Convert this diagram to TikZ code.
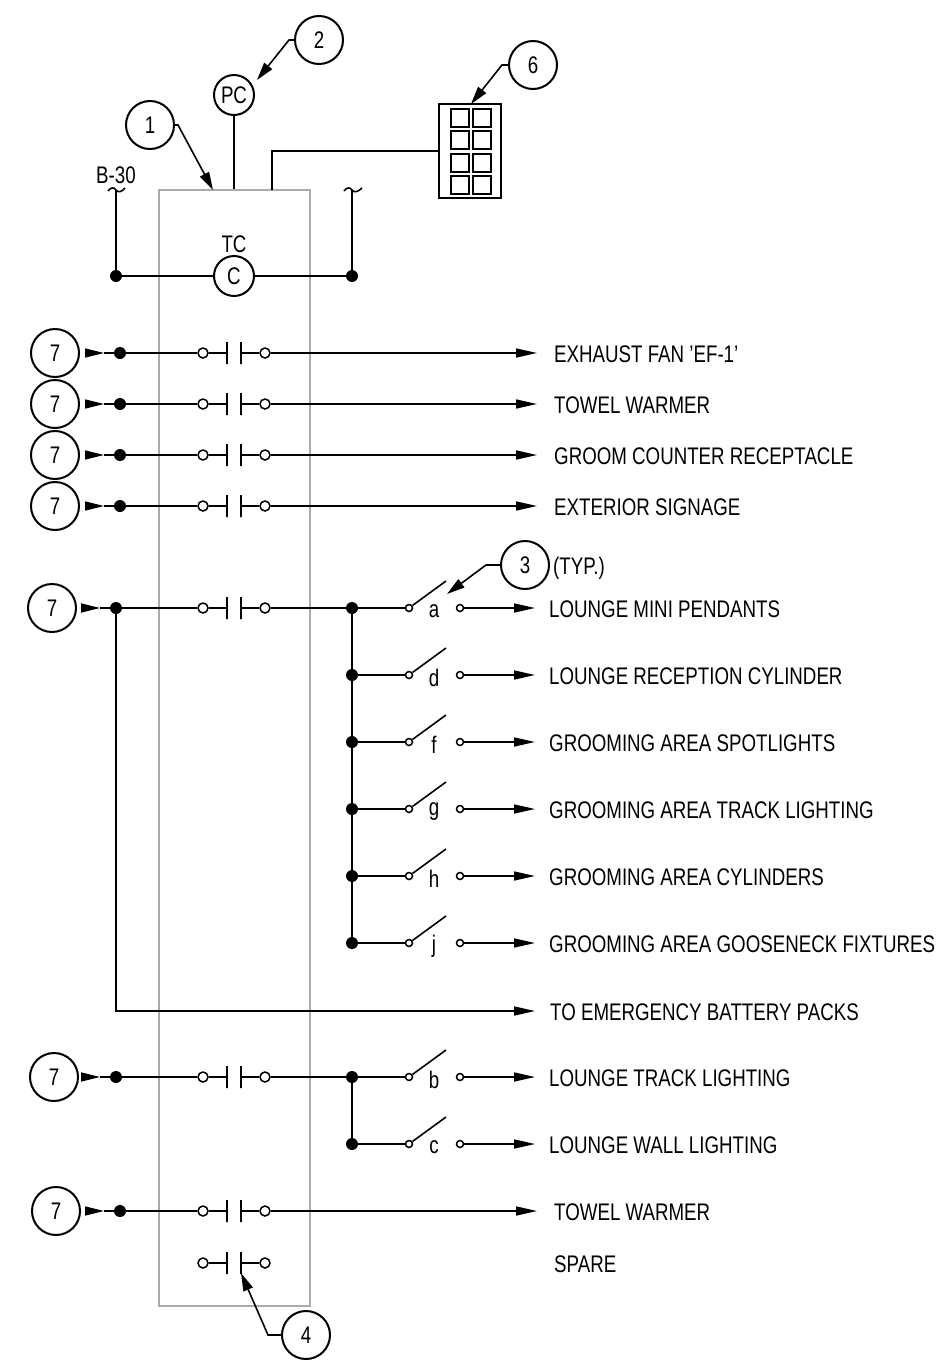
\documentclass[tikz,border=0pt]{standalone}
\usepackage{fontspec}
\setmainfont[FakeStretch=0.78]{Liberation Sans}
\usetikzlibrary{arrows.meta}
\tikzset{
	wire/.style={line width=1.6pt,black},
	callout/.style={circle,draw,line width=2pt,fill=white,minimum size=48pt,inner sep=0pt},
	meter/.style={circle,draw,line width=2pt,fill=white,minimum size=40pt,inner sep=0pt},
	junction/.style={circle,fill=black,minimum size=12pt,inner sep=0pt},
	terminal/.style={circle,draw,line width=1.5pt,fill=white,minimum size=10pt,inner sep=0pt},
	swterminal/.style={circle,draw,line width=1.5pt,fill=white,minimum size=7pt,inner sep=0pt},
	plate/.style={draw,line width=1.4pt,minimum width=0pt,minimum height=22pt,inner sep=0pt},
	panel/.style={draw=black!33,line width=1.3pt,minimum width=151pt,minimum height=1116pt,inner sep=0pt},
	keybtn/.style={draw,line width=2pt,minimum width=18pt,minimum height=18pt,inner sep=0pt},
	lbl/.style={anchor=west,inner sep=0pt,text height=17pt,text depth=0pt,yshift=-1pt},
	tag/.style={inner sep=0pt},
	leader/.style={wire,-{Triangle[length=18pt,width=10pt]}},
	feedtip/.style={wire,-{Triangle[length=19pt,width=9pt]},shorten <=#1},
	outtip/.style={wire,-{Triangle[length=21pt,width=9pt]}},
	every node/.append style={font=\fontsize{24}{26}\selectfont}
}
% contact pair on one row: name, y
\newcommand{\contactpair}[2]{
	\node[terminal] (#1l) at (203,#2) {};
	\node[plate] (#1pl) at (227,#2) {};
	\node[plate] (#1pr) at (241,#2) {};
	\node[terminal] (#1r) at (265,#2) {};
	\draw[wire] (#1l) -- (#1pl);
	\draw[wire] (#1pr) -- (#1r);
}
% supply circle, wedge and dot: name, circle x, dot x, y
\newcommand{\supply}[4]{
	\node[callout] (#1c) at (#2,#4) {7};
	\node[junction] (#1d) at (#3,#4) {};
	\coordinate (#1t) at ({#3-16},#4);
	\draw[feedtip=4.5pt] (#1c) -- (#1t);
	\draw[wire] (#1t) -- (#1d);
	\draw[wire] (#1d) -- (#1l);
}
% switch and its load: name, letter, y, label
\newcommand{\switchload}[4]{
	\node[swterminal] (#1a) at (409,#3) {};
	\node[swterminal] (#1b) at (460,#3) {};
	\node[tag] (#1n) at (434,{#3+3}) {#2};
	\coordinate (#1u) at (446,{#3-27});
	\coordinate (#1e) at (535,#3);
	\node[lbl] (#1x) at (549,#3) {#4};
	\draw[wire] (#1a) -- (#1u);
	\draw[outtip] (#1b) -- (#1e);
}
% direct load after a contact pair: name, y, label
\newcommand{\directload}[3]{
	\coordinate (#1e) at (537,#2);
	\node[lbl] (#1x) at (554,#2) {#3};
	\draw[outtip] (#1r) -- (#1e);
}

\begin{document}
\begin{tikzpicture}[x=1pt,y=-1pt]
	\useasboundingbox (0,0) rectangle (941,1365);

	\node[panel] (tcbox) at (234.5,748) {};

	% control circuit
	\node[meter] (pc) at (234,95) {PC};
	\node[meter] (coil) at (234,276) {C};
	\node[tag] (tc) at (234,244) {TC};
	\node[tag] (bkr) at (116,175) {B-30};
	\node[junction] (jl) at (116,276) {};
	\node[junction] (jr) at (352,276) {};
	\coordinate (bl) at (116,190);
	\coordinate (br) at (352,190);
	\draw[wire] (jl) -- (bl);
	\draw[wire] (jr) -- (br);
	\draw[wire] (jl) -- (coil);
	\draw[wire] (coil) -- (jr);
	\draw[wire] (108,191) .. controls (111,187) and (114,187) .. (116,190) .. controls (118,193) and (122,192) .. (125,188);
	\draw[wire] (344,191) .. controls (347,187) and (350,187) .. (352,190) .. controls (354,193) and (358,192) .. (362,188);
	\draw[wire] (pc) -- (pc |- tcbox.north);

	% keypad
	\node[draw,line width=2pt,minimum width=62pt,minimum height=94pt,inner sep=0pt] (keypad) at (470,151) {};
	\node[keybtn] (k1) at (459.5,117.5) {};
	\node[keybtn] (k2) at (481.5,117.5) {};
	\node[keybtn] (k3) at (459.5,139.5) {};
	\node[keybtn] (k4) at (481.5,139.5) {};
	\node[keybtn] (k5) at (459.5,162.5) {};
	\node[keybtn] (k6) at (481.5,162.5) {};
	\node[keybtn] (k7) at (459.5,185) {};
	\node[keybtn] (k8) at (481.5,185) {};
	\coordinate (kw) at (272,190);
	\draw[wire] (kw) |- (keypad.west);

	% callouts
	\node[callout] (c1) at (150,125) {1};
	\node[callout] (c2) at (319,40) {2};
	\node[callout] (c3) at (525,565) {3};
	\node[callout] (c4) at (306,1335) {4};
	\node[callout] (c6) at (533,65) {6};
	\node[lbl] (typ) at (553,565) {(TYP.)};
	\coordinate (c1b) at (178,125);
	\coordinate (c1t) at (213,190);
	\coordinate (c2b) at (289,40);
	\coordinate (c2t) at (257,80);
	\coordinate (c3b) at (486,565);
	\coordinate (c3t) at (447,594);
	\coordinate (c4b) at (268,1335);
	\coordinate (c4t) at (241,1273);
	\coordinate (c6b) at (502,65);
	\coordinate (c6t) at (471,104);
	\draw[leader] (c1) -- (c1b) -- (c1t);
	\draw[leader] (c2) -- (c2b) -- (c2t);
	\draw[leader] (c3) -- (c3b) -- (c3t);
	\draw[leader] (c4) -- (c4b) -- (c4t);
	\draw[leader] (c6) -- (c6b) -- (c6t);

	% direct loads
	\contactpair{fan}{353}
	\supply{fan}{55}{120}{353}
	\directload{fan}{353}{EXHAUST FAN 'EF-1'}
	\contactpair{twa}{404}
	\supply{twa}{55}{120}{404}
	\directload{twa}{404}{TOWEL WARMER}
	\contactpair{grm}{455}
	\supply{grm}{55}{120}{455}
	\directload{grm}{455}{GROOM COUNTER RECEPTACLE}
	\contactpair{ext}{506}
	\supply{ext}{55}{120}{506}
	\directload{ext}{506}{EXTERIOR SIGNAGE}

	% lighting group
	\contactpair{lng}{608}
	\supply{lng}{52}{116}{608}
	\node[junction] (ja) at (352,608) {};
	\node[junction] (jd) at (352,675) {};
	\node[junction] (jf) at (352,742) {};
	\node[junction] (jg) at (352,809) {};
	\node[junction] (jh) at (352,876) {};
	\node[junction] (jj) at (352,943) {};
	\draw[wire] (lngr) -- (ja);
	\draw[wire] (ja) -- (jj);
	\switchload{swa}{a}{608}{LOUNGE MINI PENDANTS}
	\switchload{swd}{d}{675}{LOUNGE RECEPTION CYLINDER}
	\switchload{swf}{f}{742}{GROOMING AREA SPOTLIGHTS}
	\switchload{swg}{g}{809}{GROOMING AREA TRACK LIGHTING}
	\switchload{swh}{h}{876}{GROOMING AREA CYLINDERS}
	\switchload{swj}{j}{943}{GROOMING AREA GOOSENECK FIXTURES}
	\draw[wire] (ja) -- (swaa);
	\draw[wire] (jd) -- (swda);
	\draw[wire] (jf) -- (swfa);
	\draw[wire] (jg) -- (swga);
	\draw[wire] (jh) -- (swha);
	\draw[wire] (jj) -- (swja);

	% emergency branch
	\coordinate (embe) at (535,1011);
	\node[lbl] (embx) at (550,1011) {TO EMERGENCY BATTERY PACKS};
	\draw[outtip] (lngd) |- (embe);

	% track and wall lighting
	\contactpair{trk}{1077}
	\supply{trk}{54}{116}{1077}
	\node[junction] (jb) at (352,1077) {};
	\node[junction] (jc) at (352,1144) {};
	\draw[wire] (trkr) -- (jb);
	\draw[wire] (jb) -- (jc);
	\switchload{swb}{b}{1077}{LOUNGE TRACK LIGHTING}
	\switchload{swc}{c}{1144}{LOUNGE WALL LIGHTING}
	\draw[wire] (jb) -- (swba);
	\draw[wire] (jc) -- (swca);

	% last rows
	\contactpair{twb}{1211}
	\supply{twb}{56}{120}{1211}
	\directload{twb}{1211}{TOWEL WARMER}
	\contactpair{spr}{1263}
	\node[lbl] (sprx) at (554,1263) {SPARE};
\end{tikzpicture}
\end{document}
